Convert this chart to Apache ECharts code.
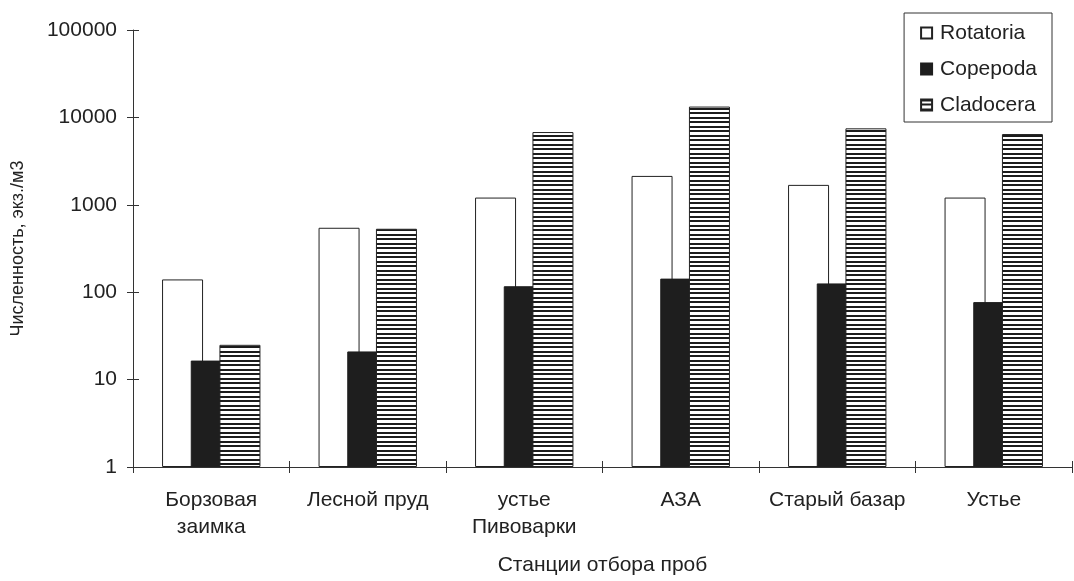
<!DOCTYPE html>
<html>
<head>
<meta charset="utf-8">
<title>Численность зоопланктона</title>
<script src="https://cdn.jsdelivr.net/npm/echarts@6/dist/echarts.min.js"></script>
<style>
  html, body { margin: 0; padding: 0; background: #fff; }
  #chart { width: 1074px; height: 581px; }
</style>
</head>
<body>
<div id="chart"></div>
<script>
// станции отбора проб
var stations = ["Борзовая\nзаимка", "Лесной пруд", "устье\nПивоварки", "АЗА", "Старый базар", "Устье"];
// численность, экз./м3
var rotatoria = [140, 546, 1210, 2140, 1690, 1210];
var copepoda = [16.5, 21, 117, 143, 126, 77];
var cladocera = [25, 532, 6800, 13300, 7500, 6450];
// подписи оси Y
var yTicks = [1, 10, 100, 1000, 10000, 100000];

var fontFamily = "'Liberation Sans', Arial, sans-serif";
var textColor = "#222";

// штриховка для Cladocera - горизонтальные линии (шаг ~4.5px)
function makeStripes() {
  var c = document.createElement("canvas");
  c.width = 4;
  c.height = 9;
  var ctx = c.getContext("2d");
  ctx.fillStyle = "#ffffff";
  ctx.fillRect(0, 0, 4, 9);
  ctx.fillStyle = "#1c1c1c";
  ctx.fillRect(0, 0, 4, 2);
  ctx.fillRect(0, 4, 4, 2);
  return c;
}

var chart = echarts.init(document.getElementById("chart"), null, { renderer: "canvas" });

var option = {
  backgroundColor: "#fff",
  animation: false,
  textStyle: { fontFamily: fontFamily },
  grid: {
    left: 133,
    right: 2,
    top: 30,
    bottom: 104,
    containLabel: false
  },
  legend: {
    orient: "vertical",
    right: 22,
    top: 13,
    padding: [9, 15, 6, 16],
    itemWidth: 11,
    itemHeight: 11,
    itemGap: 14,
    borderColor: "#333",
    borderWidth: 1,
    icon: "rect",
    textStyle: { fontSize: 21, lineHeight: 22, color: textColor, padding: [0, 0, 0, 3] },
    data: ["Rotatoria", "Copepoda", "Cladocera"]
  },
  xAxis: [
    {
      type: "category",
      data: stations,
      name: "Станции отбора проб",
      nameLocation: "middle",
      nameGap: 88,
      nameTextStyle: { fontSize: 21, color: textColor },
      axisLine: { show: true, lineStyle: { color: "#333", width: 1 } },
      axisTick: { show: true, length: 6, interval: 0, alignWithLabel: false, lineStyle: { color: "#333" } },
      axisLabel: { fontSize: 21, color: textColor, margin: 20, lineHeight: 27, interval: 0 },
      splitLine: { show: false }
    },
    {
      // вторая ось только для засечек внутрь (крестовые засечки)
      type: "category",
      data: stations,
      position: "bottom",
      axisLine: { show: false },
      axisTick: { show: true, inside: true, length: 6, interval: 0, alignWithLabel: false, lineStyle: { color: "#333" } },
      axisLabel: { show: false },
      splitLine: { show: false }
    }
  ],
  yAxis: [
    {
      type: "log",
      logBase: 10,
      min: yTicks[0],
      max: yTicks[yTicks.length - 1],
      name: "Численность, экз./м3",
      nameLocation: "middle",
      nameGap: 106,
      nameRotate: 90,
      nameTextStyle: { fontSize: 18, color: textColor },
      axisLine: { show: true, lineStyle: { color: "#333", width: 1 } },
      axisTick: { show: true, length: 6, lineStyle: { color: "#333" } },
      axisLabel: {
        fontSize: 21,
        color: textColor,
        margin: 16,
        formatter: function (val) {
          return String(Math.round(val));
        }
      },
      splitLine: { show: false },
      minorTick: { show: false }
    },
    {
      type: "log",
      logBase: 10,
      min: yTicks[0],
      max: yTicks[yTicks.length - 1],
      position: "left",
      axisLine: { show: false },
      axisTick: { show: true, inside: true, length: 6, lineStyle: { color: "#333" } },
      axisLabel: { show: false },
      splitLine: { show: false }
    }
  ],
  series: [
    {
      name: "Rotatoria",
      type: "bar",
      data: rotatoria,
      barWidth: 41,
      barGap: "-30%",
      itemStyle: { color: "#ffffff", borderColor: "#222", borderWidth: 1 }
    },
    {
      name: "Copepoda",
      type: "bar",
      data: copepoda,
      barWidth: 41,
      barGap: "-30%",
      itemStyle: { color: "#1e1e1e", borderColor: "#1e1e1e", borderWidth: 1 }
    },
    {
      name: "Cladocera",
      type: "bar",
      data: cladocera,
      barWidth: 41,
      barGap: "-30%",
      itemStyle: {
        color: { image: makeStripes(), repeat: "repeat" },
        borderColor: "#222",
        borderWidth: 1
      }
    }
  ]
};

chart.setOption(option);
</script>
</body>
</html>
